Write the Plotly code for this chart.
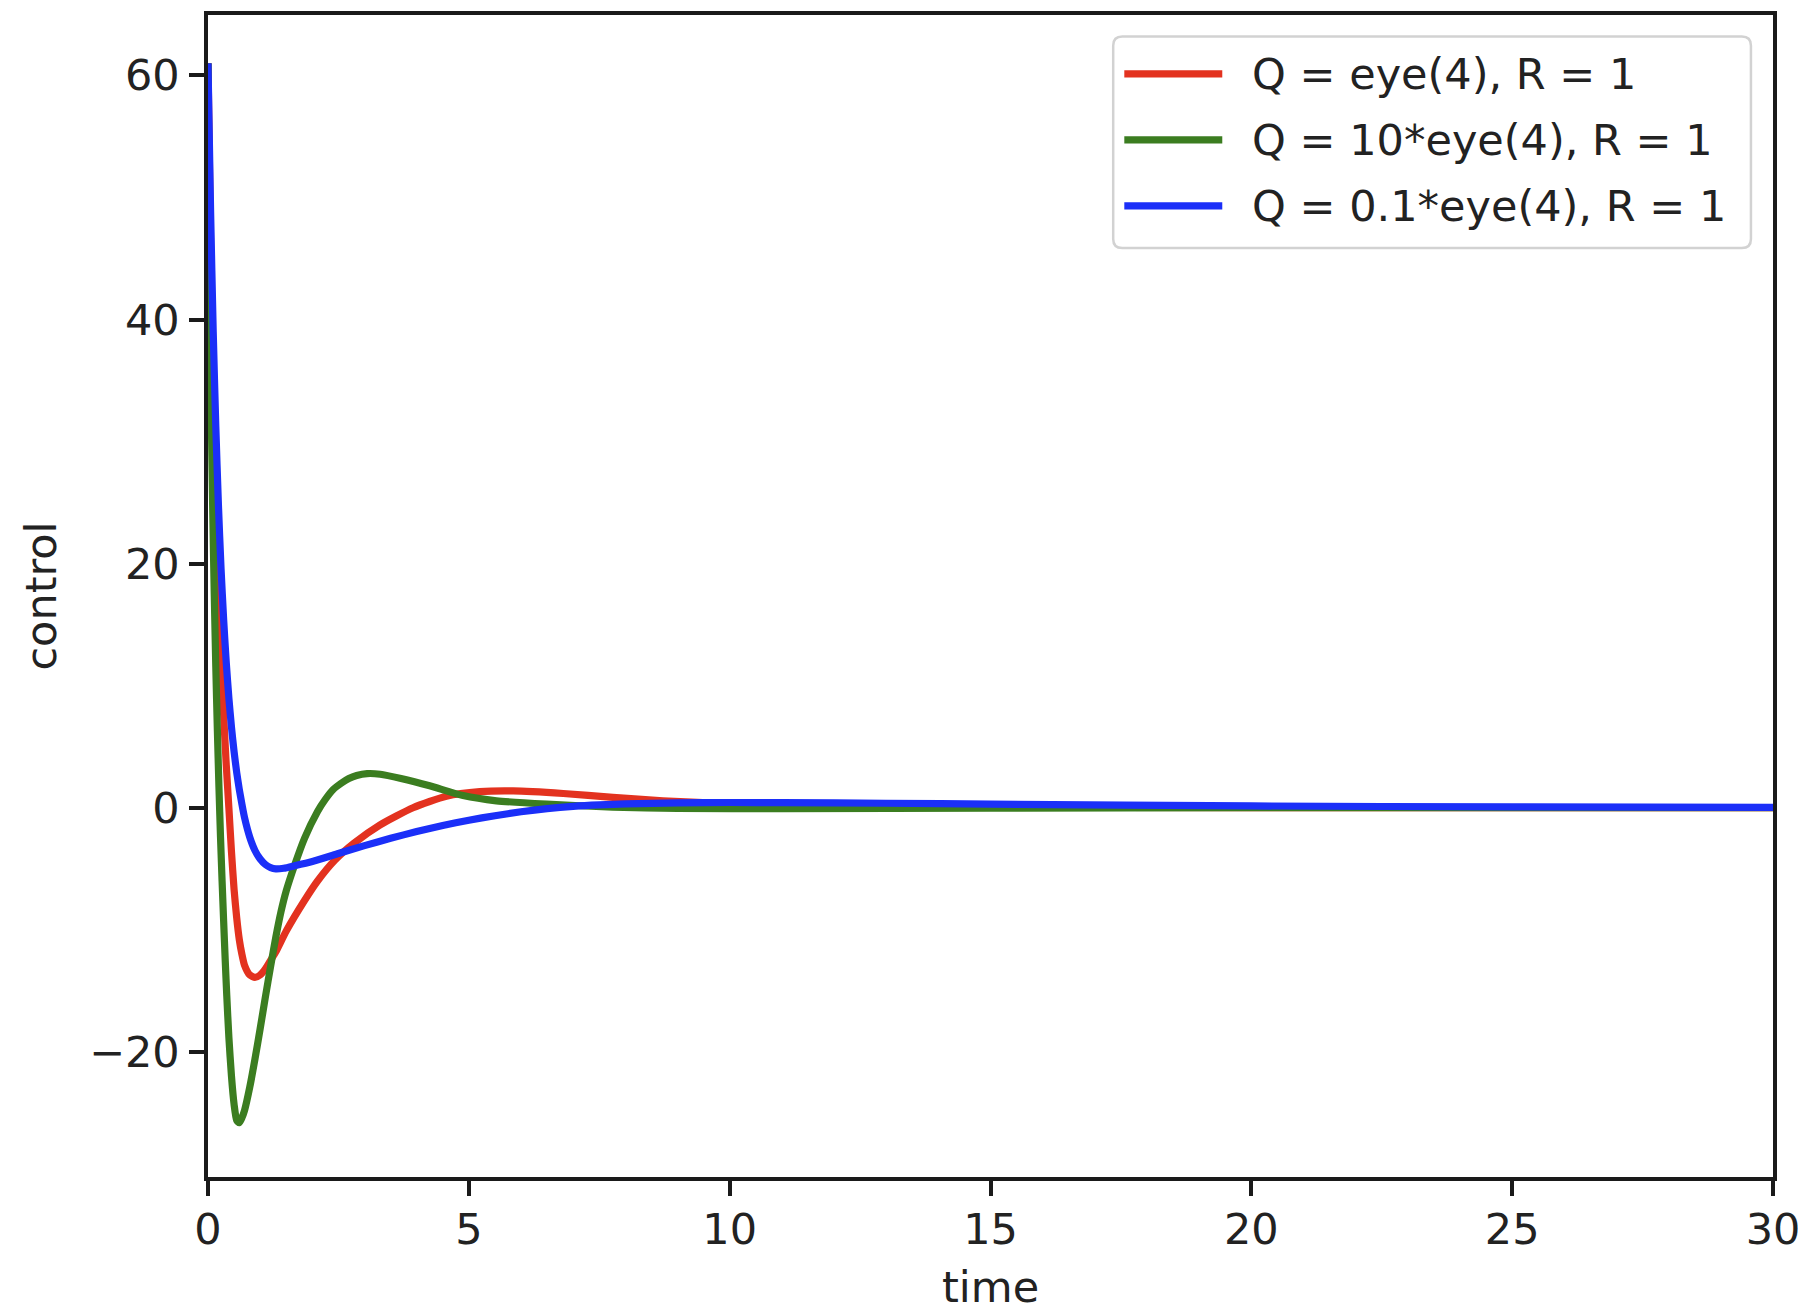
import plotly.graph_objects as go

# Control effort u(t) of the LQR-stabilised system for three state weightings
series_names = ["Q = eye(4), R = 1", "Q = 10*eye(4), R = 1", "Q = 0.1*eye(4), R = 1"]
series_colors = ["#e3321f", "#3b7d20", "#1b2ff8"]

t_red = [0, 0.05, 0.1, 0.15, 0.2, 0.25, 0.3, 0.35, 0.4, 0.45, 0.5, 0.55, 0.6, 0.65, 0.7,
         0.8, 0.9, 1.0, 1.1, 1.2, 1.3, 1.5, 1.85, 2.1, 2.43, 2.8, 3.3, 3.93, 4.57, 5.21,
         5.85, 6.81, 7.76, 8.72, 10, 12, 15, 20, 25, 30]
u_red = [61, 46, 34.5, 25.5, 18.3, 12.5, 7.6, 3.5, 0, -3.6, -6.7, -9.0, -10.8, -12.0, -12.9,
         -13.7, -13.9, -13.7, -13.2, -12.5, -11.8, -10.1, -7.6, -6.0, -4.3, -2.9, -1.4, 0, 0.95, 1.32,
         1.38, 1.17, 0.85, 0.57, 0.33, 0.15, 0.05, 0.01, 0, 0]

t_green = [0, 0.03, 0.06, 0.09, 0.12, 0.15, 0.18, 0.21, 0.24, 0.27, 0.3, 0.33, 0.36, 0.4, 0.45,
           0.5, 0.55, 0.6, 0.65, 0.7, 0.8, 0.9, 1.0, 1.1, 1.2, 1.3, 1.4, 1.5, 1.66, 1.85,
           2.1, 2.25, 2.4, 2.55, 2.7, 2.85, 3.05, 3.3, 3.7, 4.25, 4.89, 5.53, 6.49, 7.76, 9,
           11, 15, 20, 30]
u_green = [61, 45, 33, 24.5, 17.5, 11.5, 6.3, 1.7, -2.4, -6.0, -9.3, -12.5, -15.4, -18.8, -22.0,
           -24.3, -25.6, -25.8, -25.4, -24.8, -22.9, -20.6, -18.1, -15.5, -13.0, -10.6, -8.5, -6.8, -4.7, -2.5,
           -0.3, 0.7, 1.5, 2.0, 2.4, 2.65, 2.8, 2.75, 2.4, 1.8, 1.0, 0.57, 0.3, 0.05, -0.05,
           -0.08, -0.03, 0, 0]

t_blue = [0, 0.05, 0.1, 0.15, 0.2, 0.25, 0.3, 0.35, 0.4, 0.45, 0.5, 0.55, 0.6, 0.65, 0.7,
          0.8, 0.9, 1.0, 1.1, 1.2, 1.3, 1.45, 1.66, 2.0, 2.5, 3.0, 3.5, 4.0, 4.5, 5.0,
          5.5, 6.0, 6.5, 7.0, 7.5, 8.0, 9.0, 10, 11, 13, 15, 20, 25, 30]
u_blue = [61, 48.8, 39, 31.2, 24.8, 19.6, 15.4, 11.9, 9.0, 6.6, 4.6, 2.9, 1.5, 0.3, -0.8,
          -2.4, -3.5, -4.2, -4.65, -4.9, -5.0, -4.95, -4.75, -4.4, -3.75, -3.1, -2.5, -1.95, -1.45, -1.02,
          -0.65, -0.33, -0.07, 0.12, 0.24, 0.32, 0.40, 0.43, 0.42, 0.37, 0.3, 0.15, 0.07, 0.03]

x_ticks = [0, 5, 10, 15, 20, 25, 30]
y_ticks = [-20, 0, 20, 40, 60]
x_range = [0, 30]
y_range = [-30.25, 64.95]
x_label = "time"
y_label = "control"

FONT = "DejaVu Sans"
FS = 43
LW = 7.2
TEXT = "#222222"

fig = go.Figure()
for t, u, name, color in zip([t_red, t_green, t_blue], [u_red, u_green, u_blue],
                             series_names, series_colors):
    fig.add_trace(go.Scatter(
        x=t, y=u, name=name, mode="lines",
        line=dict(color=color, width=LW, shape="spline", smoothing=0.6),
        showlegend=False,
    ))

axis_style = dict(
    showline=True, linecolor="#1a1a1a", linewidth=3.5, mirror=True,
    ticks="outside", ticklen=15, tickwidth=3.5, tickcolor="#1a1a1a",
    showgrid=False, zeroline=False,
    tickfont=dict(family=FONT, size=FS, color=TEXT),
)

fig.update_xaxes(range=x_range, tickvals=x_ticks, ticklabelstandoff=-3,
                 ticklabeloverflow="allow", **axis_style)
fig.update_yaxes(range=y_range, tickvals=y_ticks, ticklabelstandoff=1,
                 title=dict(text=y_label, font=dict(family=FONT, size=FS, color=TEXT), standoff=20),
                 **axis_style)

# x-axis label placed below the tick labels
fig.add_annotation(x=0.5, y=-0.0945, xref="paper", yref="paper", text=x_label,
                   showarrow=False, xanchor="center", yanchor="middle",
                   font=dict(family=FONT, size=FS, color=TEXT))

# Legend frame (rounded box) and entries, positioned in axes fractions
bx0, bx1, by0, by1 = 0.5784, 0.9859, 0.7994, 0.9814
rx, ry = 0.0058, 0.0078
frame = (f"M{bx0 + rx},{by1} L{bx1 - rx},{by1} Q{bx1},{by1} {bx1},{by1 - ry} "
         f"L{bx1},{by0 + ry} Q{bx1},{by0} {bx1 - rx},{by0} "
         f"L{bx0 + rx},{by0} Q{bx0},{by0} {bx0},{by0 + ry} "
         f"L{bx0},{by1 - ry} Q{bx0},{by1} {bx0 + rx},{by1} Z")
fig.add_shape(type="path", path=frame, xref="paper", yref="paper",
              line=dict(color="#d2d2d2", width=2.5), fillcolor="rgba(255,255,255,0.85)",
              layer="above")

row_y = [0.9493, 0.8925, 0.8358]
for name, color, yy in zip(series_names, series_colors, row_y):
    fig.add_shape(type="line", xref="paper", yref="paper",
                  x0=0.5855, x1=0.6481, y0=yy, y1=yy,
                  line=dict(color=color, width=LW), layer="above")
    fig.add_annotation(x=0.6655, y=yy, xref="paper", yref="paper", text=name,
                       showarrow=False, xanchor="left", yanchor="middle",
                       font=dict(family=FONT, size=FS, color=TEXT))

fig.update_layout(
    width=1798, height=1313,
    margin=dict(l=208.3, r=25, t=15, b=136.3, autoexpand=False),
    paper_bgcolor="white", plot_bgcolor="white",
    showlegend=False,
)

fig.write_html("out.html")
